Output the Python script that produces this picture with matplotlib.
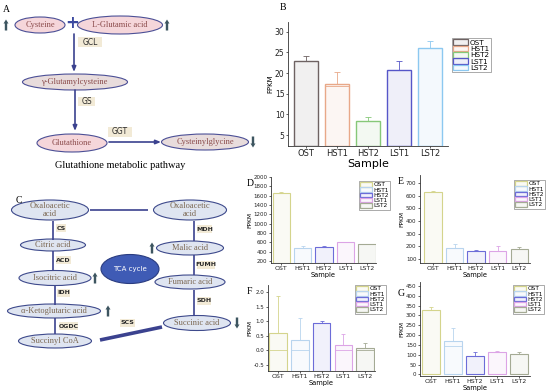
import numpy as np
import matplotlib.pyplot as plt
from matplotlib.patches import Ellipse, Rectangle, FancyArrow

samples = ["OST", "HST1", "HST2", "LST1", "LST2"]

# panel B
b_fpkm = [23.0, 17.4, 8.5, 20.7, 26.0]
b_top = [24.0, 20.2, 9.4, 22.8, 27.6]
b_low = [np.nan, 16.9, np.nan, np.nan, np.nan]
# panel D
d_fpkm = [1650, 480, 510, 600, 555]
d_top = [1685, 515, 518, 612, 572]
d_low = [np.nan] * 5
# panel E
e_fpkm = [625, 190, 165, 160, 175]
e_top = [635, 215, 172, 200, 195]
e_low = [np.nan] * 5
# panel F
f_fpkm = [0.60, 0.35, 0.95, 0.17, 0.07]
f_top = [1.85, 1.10, 1.00, 0.55, 0.25]
f_low = [0.0, 0.0, 0.92, 0.0, 0.0]
# panel G
g_fpkm = [330, 170, 95, 115, 103]
g_top = [345, 235, 112, 120, 115]
g_low = [np.nan, 145, np.nan, np.nan, np.nan]

b_colors = ["#6e6262", "#e8a888", "#86c878", "#5656c8", "#8cc8f0"]
dg_colors = ["#d4d48c", "#b8d4ee", "#6c6cd8", "#dca4e6", "#a4aa94"]

W, H = 550, 392
fig = plt.figure(figsize=(5.5, 3.92), dpi=100)

dg = fig.add_axes([0, 0, 1, 1])
dg.set_xlim(0, W)
dg.set_ylim(H, 0)
dg.axis("off")

serif = "Liberation Serif"
line_c = "#3b428f"
arrow_c = "#3d5560"


def node(x, y, w, h, txt, fc, ec="#4b4f96", tc="#8a4a4a", fs=6, lw=0.8):
    dg.add_patch(Ellipse((x, y), w, h, fc=fc, ec=ec, lw=lw))
    dg.text(x, y, txt, ha="center", va="center", fontsize=fs, color=tc,
            family=serif, linespacing=1.0)


def enzyme(x, y, txt, w, h=9, fs=5, bold=True):
    dg.add_patch(Rectangle((x, y - h / 2), w, h, fc="#f2ead6", ec="none"))
    dg.text(x + w / 2, y, txt, ha="center", va="center", fontsize=fs,
            color="#2a2a2a", fontweight="bold" if bold else "normal",
            family="DejaVu Sans")


def updown(x, y, up=True):
    dy = -11 if up else 11
    dg.add_patch(FancyArrow(x, y - dy / 2, 0, dy, width=2.4, head_width=5.0,
                            head_length=4.0, length_includes_head=True,
                            color=arrow_c, lw=0))


def link(x0, y0, x1, y1, head=False, lw=1.2):
    if head:
        dg.annotate("", xy=(x1, y1), xytext=(x0, y0),
                    arrowprops=dict(arrowstyle="-|>,head_width=0.12,head_length=0.3",
                                    color=line_c, lw=lw, shrinkA=0, shrinkB=0))
    else:
        dg.plot([x0, x1], [y0, y1], color=line_c, lw=lw, solid_capstyle="butt")


# ---------- panel A ----------
pink = "#f5d6da"
greyp = "#e8dcdc"
dg.text(3, 9, "A", fontsize=7, family=serif, va="center")
node(40, 25, 50, 16, "Cysteine", pink)
node(120, 25, 85, 18, "L-Glutamic acid", pink)
dg.text(72, 23, "+", fontsize=12, fontweight="bold", color="#3c4aa0",
        ha="center", va="center")
updown(6, 25)
updown(167, 25)
enzyme(78, 42, "GCL", 24, 10, 5.5, bold=False)
link(74, 34, 74, 72, head=True)
node(75, 82, 105, 16, "γ-Glutamylcysteine", greyp)
enzyme(78, 101, "GS", 17, 9, 5.5, bold=False)
link(75, 90, 75, 131, head=True)
node(72, 143, 70, 18, "Glutathione", pink)
enzyme(108, 132, "GGT", 24, 10, 5.5, bold=False)
link(109, 142, 161, 142, head=True)
node(205, 142, 87, 16, "Cysteinylglycine", greyp)
updown(253, 142, up=False)
dg.text(120, 165, "Glutathione metabolic pathway", fontsize=7.5,
        family=serif, ha="center", va="center")

# ---------- panel C ----------
blue_fc = "#dfe5f1"
blue_ec = "#3e4a8c"
tc = "#7a6650"
dg.text(16, 200, "C", fontsize=7, family=serif, va="center")
link(90, 210, 148, 210)
link(53, 221, 53, 240)
link(53, 251, 53, 270)
link(55, 286, 55, 305)
link(55, 318, 55, 334)
link(194, 221, 194, 241)
link(194, 255, 194, 275)
link(194, 290, 194, 316)
link(100, 340, 162, 327, lw=2.6)
node(50, 210, 77, 20, "Oxaloacetic\nacid", blue_fc, blue_ec, tc)
node(190, 210, 73, 20, "Oxaloacetic\nacid", blue_fc, blue_ec, tc)
node(53, 245, 65, 12, "Citric acid", blue_fc, blue_ec, tc)
node(55, 278, 72, 15, "Isocitric acid", blue_fc, blue_ec, tc)
node(54, 311, 93, 14, "α-Ketoglutaric acid", blue_fc, blue_ec, tc)
node(55, 341, 73, 14, "Succinyl CoA", blue_fc, blue_ec, tc)
node(197, 323, 67, 15, "Succinic acid", blue_fc, blue_ec, tc)
node(190, 282, 70, 14, "Fumaric acid", blue_fc, blue_ec, tc)
node(190, 248, 67, 14, "Malic acid", blue_fc, blue_ec, tc)
dg.add_patch(Ellipse((130, 269), 58, 29, fc="#3f5bb5", ec="#2a3c80", lw=0.8))
dg.text(130, 269, "TCA cycle", fontsize=5, color="white", ha="center",
        va="center")
enzyme(56, 228, "CS", 10, 8, 4.5)
enzyme(56, 260, "ACD", 15, 8, 4.5)
enzyme(57, 293, "IDH", 13, 8, 4.5)
enzyme(59, 326, "OGDC", 19, 8, 4.5)
enzyme(120, 323, "SCS", 15, 8, 4.5)
enzyme(197, 301, "SDH", 14, 8, 4.5)
enzyme(197, 265, "FUMH", 18, 8, 4.5)
enzyme(197, 229, "MDH", 15, 8, 4.5)
updown(95, 278)
updown(108, 311)
updown(152, 248)
updown(237, 323, up=False)


# ---------- bar panels ----------
def px_rect(l, r, t, b):
    return [l / W, 1 - b / H, (r - l) / W, (b - t) / H]


def bar_panel(rect, xlim, ylim, vals, tops, lows, colors, yticks, leg_xy,
              base=None, small=True, ytl=None):
    ax = fig.add_axes(px_rect(*rect))
    x = np.arange(len(samples))
    base = ylim[0] if base is None else base
    vals = np.array(vals, float)
    ax.bar(x, vals - base, bottom=base, width=0.8,
           color=[c + "18" for c in colors], edgecolor=colors,
           linewidth=0.8 if small else 1.0)
    for i, c in enumerate(colors):
        ax.errorbar(x[i], vals[i], yerr=[[0], [tops[i] - vals[i]]], fmt="none",
                    ecolor=c, elinewidth=0.6, capsize=1.6 if small else 2.2,
                    capthick=0.6)
        if not np.isnan(lows[i]):
            ax.hlines(lows[i], x[i] - 0.4, x[i] + 0.4, color=c, lw=0.6)
    ax.set_xlim(*xlim)
    ax.set_ylim(*ylim)
    ax.set_xticks(x)
    ax.set_xticklabels(samples)
    ax.set_yticks(yticks)
    if ytl is not None:
        ax.set_yticklabels(ytl)
    for s in ["top", "right"]:
        ax.spines[s].set_visible(False)
    for s in ["left", "bottom"]:
        ax.spines[s].set_linewidth(0.6)
        ax.spines[s].set_color("#333333")
    fs = 4.0 if small else 5.5
    ax.tick_params(labelsize=fs, length=1.5, width=0.5, pad=1,
                   colors="#222222")
    ax.tick_params(axis="x", labelsize=fs + 0.5)
    ax.set_xlabel("Sample", fontsize=4.8 if small else 8, labelpad=0.5)
    ax.set_ylabel("FPKM", fontsize=4.2 if small else 5, labelpad=1)
    ax.patch.set_alpha(0)
    handles = [Rectangle((0, 0), 1, 1, fc=c + "18", ec=c, lw=0.9)
               for c in colors]
    ax.legend(handles, samples, loc="upper left",
              bbox_to_anchor=(leg_xy[0] / W, 1 - leg_xy[1] / H),
              bbox_transform=fig.transFigure, fontsize=4.2 if small else 5.2,
              frameon=True, fancybox=False, edgecolor="#888888",
              framealpha=1, handlelength=2.0, handleheight=0.8,
              labelspacing=0.0, borderpad=0.2, handletextpad=0.3,
              borderaxespad=0)
    ax.get_legend().get_frame().set_linewidth(0.5)
    return ax


dg.text(280, 7, "B", fontsize=7, family=serif, va="center")
bar_panel((288, 448, 22, 146), (-0.58, 4.58), (2.4, 32.3), b_fpkm, b_top,
          b_low, b_colors, np.arange(5, 31, 5), (452, 38), small=False)

dg.text(247, 183, "D", fontsize=7, family=serif, va="center")
bar_panel((271, 376, 177, 263), (-0.47, 4.42), (157, 2000), d_fpkm, d_top,
          d_low, dg_colors, np.arange(200, 2001, 200), (359, 181))

dg.text(398, 181, "E", fontsize=7, family=serif, va="center")
bar_panel((420, 530, 175, 263), (-0.6, 4.5), (68, 763), e_fpkm, e_top,
          e_low, dg_colors, np.arange(100, 701, 100), (514, 180))

dg.text(247, 292, "F", fontsize=7, family=serif, va="center")
fticks = np.arange(-0.5, 2.01, 0.5)
bar_panel((268, 375, 285, 371), (-0.46, 4.45), (-0.71, 2.24), f_fpkm, f_top,
          f_low, dg_colors, fticks, (355, 285),
          ytl=["%.1f" % t for t in fticks])

dg.text(398, 293, "G", fontsize=7, family=serif, va="center")
bar_panel((420, 530, 282, 376), (-0.5, 4.5), (-8, 470), g_fpkm, g_top,
          g_low, dg_colors, np.arange(0, 451, 50), (513, 285), base=0)

fig.savefig("out.png", dpi=100)
